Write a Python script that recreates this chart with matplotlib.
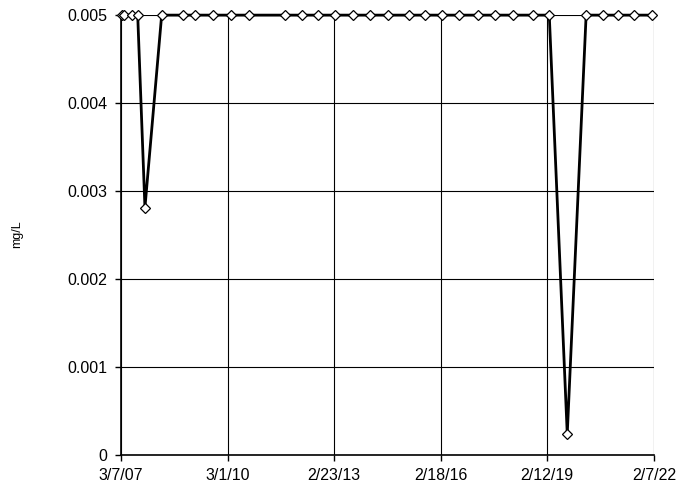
import numpy as np
import pandas as pd
import matplotlib
matplotlib.use("Agg")
import matplotlib.pyplot as plt

plt.rcParams['font.family'] = ['Liberation Sans', 'DejaVu Sans']

# sample dates and concentrations (mg/L)
sample_dates = [
    "2007-03-14", "2007-04-07", "2007-06-24", "2007-08-25", "2007-11-07",
    "2008-04-26", "2008-11-27", "2009-04-02", "2009-09-30", "2010-04-02",
    "2010-10-09", "2011-10-09", "2012-03-29", "2012-09-15", "2013-03-04",
    "2013-09-01", "2014-02-25", "2014-08-31", "2015-04-02", "2015-09-10",
    "2016-02-28", "2016-08-26", "2017-03-08", "2017-08-26", "2018-03-01",
    "2018-09-16", "2019-03-04", "2019-09-04", "2020-03-15", "2020-09-01",
    "2021-02-07", "2021-07-18", "2022-01-15",
]
values = [
    0.005, 0.005, 0.005, 0.005, 0.00281,
    0.005, 0.005, 0.005, 0.005, 0.005,
    0.005, 0.005, 0.005, 0.005, 0.005,
    0.005, 0.005, 0.005, 0.005, 0.005,
    0.005, 0.005, 0.005, 0.005, 0.005,
    0.005, 0.005, 0.000235, 0.005, 0.005,
    0.005, 0.005, 0.005,
]

tick_dates = ["2007-03-07", "2010-03-01", "2013-02-23",
              "2016-02-18", "2019-02-12", "2022-02-07"]
tick_labels = ["3/7/07", "3/1/10", "2/23/13", "2/18/16", "2/12/19", "2/7/22"]
y_ticks = [0, 0.001, 0.002, 0.003, 0.004, 0.005]
y_labels = ["0", "0.001", "0.002", "0.003", "0.004", "0.005"]

x = pd.to_datetime(sample_dates)
xt = pd.to_datetime(tick_dates)

fig = plt.figure(figsize=(6.77, 4.88), dpi=100)
ax = fig.add_axes([0.1787, 0.0686, 0.966 - 0.1787, 0.969 - 0.0686])

ax.plot(x, values, color="black", lw=2, marker="D", ms=5,
        mfc="white", mec="black", mew=0.9, clip_on=False, zorder=3)

ax.set_xlim(xt[0], xt[-1])
ax.set_ylim(0, 0.005)
ax.set_xticks(xt)
ax.set_xticklabels(tick_labels)
ax.set_yticks(y_ticks)
ax.set_yticklabels(y_labels)

ax.grid(True, color="black", lw=0.8)
ax.set_axisbelow(True)
for s in ("top", "right"):
    ax.spines[s].set_visible(False)
for s in ("left", "bottom"):
    ax.spines[s].set_linewidth(1.2)

ax.tick_params(axis="both", labelsize=11.5, length=4, width=1, direction="out")
ax.tick_params(axis="y", pad=6)
ax.tick_params(axis="x", pad=6)

fig.text(17 / 677, 1 - 234 / 488, "mg/L", rotation=90, fontsize=9,
         ha="center", va="center")

fig.savefig("out.png", dpi=100)
